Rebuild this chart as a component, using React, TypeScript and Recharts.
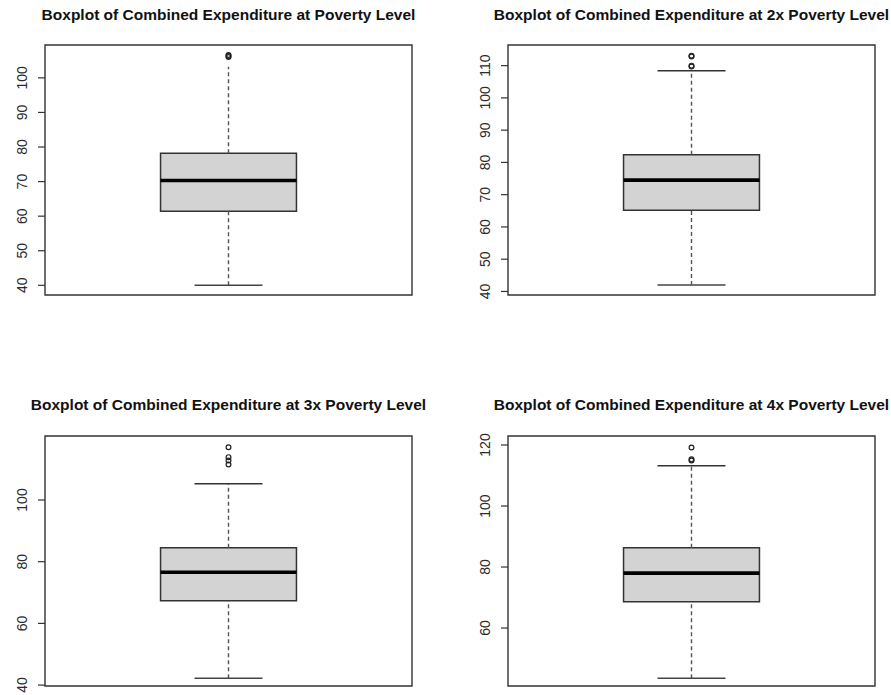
import React from "react";
import {
  ComposedChart,
  XAxis,
  YAxis,
  ReferenceArea,
  ReferenceLine,
  Scatter,
} from "recharts";

// one entry per poverty multiple
const titles = [
  "Boxplot of Combined Expenditure at Poverty Level",
  "Boxplot of Combined Expenditure at 2x Poverty Level",
  "Boxplot of Combined Expenditure at 3x Poverty Level",
  "Boxplot of Combined Expenditure at 4x Poverty Level",
];
const lowWhiskers = [40, 42, 42.2, 43.5];
const q1s = [61.4, 65.2, 67.3, 68.6];
const medians = [70.3, 74.5, 76.6, 78.0];
const q3s = [78.2, 82.4, 84.5, 86.3];
const highWhiskers = [103.2, 108.4, 105.3, 113.2];
const outliers = [
  [106.0, 106.3, 106.6],
  [109.7, 110.0, 112.8, 113.1],
  [111.5, 112.8, 113.9, 117.1],
  [114.9, 115.3, 119.2],
];
const yDomains: [number, number][] = [
  [37.2, 109.5],
  [38.9, 116.4],
  [39.7, 120.75],
  [41.0, 122.95],
];
const yTicks = [
  [40, 50, 60, 70, 80, 90, 100],
  [40, 50, 60, 70, 80, 90, 100, 110],
  [40, 60, 80, 100],
  [60, 80, 100, 120],
];
// upper staple is not drawn on the first plot
const showUpperCap = [false, true, true, true];

// plot rectangle (left, top) of each panel, 2x2 grid
const plotOrigins = [
  [45, 45],
  [508, 45],
  [45, 436],
  [508, 436],
];
const PLOT_W = 367;
const PLOT_H = 250;
const AXIS_W = 45;
const PAD_TOP = 20;
const PAD = 10;

const X_DOMAIN: [number, number] = [0.46, 1.54];
const FONT = "'Liberation Sans', Arial, Helvetica, sans-serif";

const RotatedTick = ({ x, y, payload }: any) => (
  <text
    x={x}
    y={y}
    transform={`rotate(-90, ${x}, ${y})`}
    textAnchor="middle"
    fontSize={14}
    fontFamily={FONT}
    fill="#2b2b2b"
  >
    {payload.value}
  </text>
);

const OpenCircle = ({ cx, cy }: any) => (
  <circle cx={cx} cy={cy} r={2.4} fill="none" stroke="#222" strokeWidth={1.2} />
);

function BoxPanel({ i }: { i: number }) {
  const [left, top] = plotOrigins[i];
  const [yMin, yMax] = yDomains[i];
  const pts = outliers[i].map((v) => ({ x: 1, y: v }));

  return (
    <div
      style={{
        position: "absolute",
        left: left - AXIS_W,
        top: top - PAD_TOP,
        width: AXIS_W + PLOT_W + PAD,
        height: PAD_TOP + PLOT_H + PAD,
      }}
    >
      <ComposedChart
        width={AXIS_W + PLOT_W + PAD}
        height={PAD_TOP + PLOT_H + PAD}
        margin={{ top: PAD_TOP, right: PAD, bottom: PAD, left: 0 }}
      >
        <XAxis type="number" dataKey="x" domain={X_DOMAIN} hide allowDataOverflow />
        <YAxis
          type="number"
          domain={[yMin, yMax]}
          ticks={yTicks[i]}
          allowDataOverflow
          width={AXIS_W}
          axisLine={false}
          tickSize={7}
          tickMargin={11}
          tickLine={{ stroke: "#333", strokeWidth: 1.2 }}
          tick={<RotatedTick />}
          interval={0}
        />

        {/* plot frame */}
        <ReferenceArea
          x1={X_DOMAIN[0]}
          x2={X_DOMAIN[1]}
          y1={yMin}
          y2={yMax}
          fill="none"
          stroke="#333"
          strokeWidth={1.4}
          ifOverflow="visible"
        />

        {/* whiskers */}
        <ReferenceLine
          segment={[{ x: 1, y: q3s[i] }, { x: 1, y: highWhiskers[i] }]}
          stroke="#555"
          strokeWidth={1.4}
          strokeDasharray="4 3"
        />
        <ReferenceLine
          segment={[{ x: 1, y: lowWhiskers[i] }, { x: 1, y: q1s[i] }]}
          stroke="#555"
          strokeWidth={1.4}
          strokeDasharray="4 3"
        />
        <ReferenceLine
          segment={[{ x: 0.9, y: lowWhiskers[i] }, { x: 1.1, y: lowWhiskers[i] }]}
          stroke="#444"
          strokeWidth={1.5}
        />
        {showUpperCap[i] && (
          <ReferenceLine
            segment={[{ x: 0.9, y: highWhiskers[i] }, { x: 1.1, y: highWhiskers[i] }]}
            stroke="#333"
            strokeWidth={1.5}
          />
        )}

        {/* box */}
        <ReferenceArea
          x1={0.8}
          x2={1.2}
          y1={q1s[i]}
          y2={q3s[i]}
          fill="#d3d3d3"
          fillOpacity={1}
          stroke="#333"
          strokeWidth={1.5}
        />
        <ReferenceLine
          segment={[{ x: 0.8, y: medians[i] }, { x: 1.2, y: medians[i] }]}
          stroke="#000"
          strokeWidth={3.6}
        />

        <Scatter data={pts} dataKey="y" shape={<OpenCircle />} isAnimationActive={false} />
      </ComposedChart>
    </div>
  );
}

export default function App() {
  return (
    <div
      style={{
        position: "absolute",
        left: 0,
        top: 0,
        width: 891,
        height: 695,
        background: "#fff",
        overflow: "hidden",
        fontFamily: FONT,
      }}
    >
      {titles.map((t, i) => (
        <div
          key={t}
          style={{
            position: "absolute",
            left: plotOrigins[i][0] - 60,
            width: PLOT_W + 120,
            top: plotOrigins[i][1] - (i < 2 ? 39 : 40),
            textAlign: "center",
            fontWeight: "bold",
            fontSize: 15.5,
            color: "#111",
            whiteSpace: "nowrap",
          }}
        >
          {t}
        </div>
      ))}
      {titles.map((_, i) => (
        <BoxPanel key={i} i={i} />
      ))}
    </div>
  );
}
